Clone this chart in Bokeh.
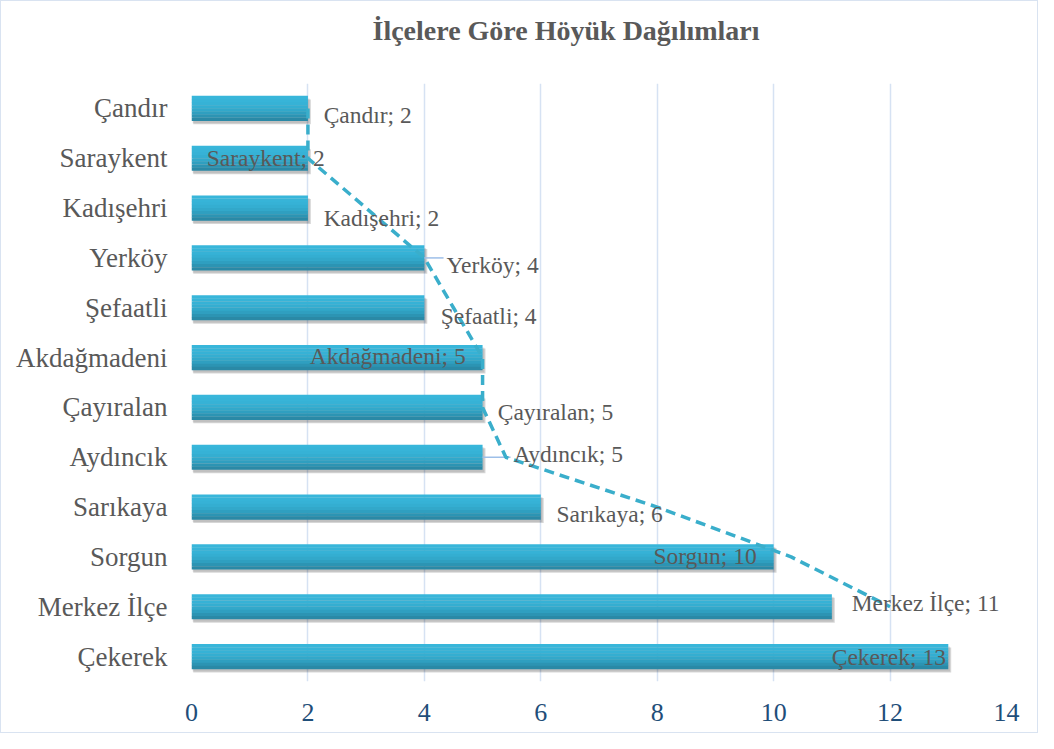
from bokeh.plotting import figure
from bokeh.models import FixedTicker, Title, ColumnDataSource, Range1d, FactorRange
from bokeh.transform import dodge
from bokeh.core.properties import value
from bokeh.embed import file_html
from bokeh.resources import INLINE

# ---- data (top to bottom as shown) ----
districts = ["Çandır", "Saraykent", "Kadışehri", "Yerköy", "Şefaatli", "Akdağmadeni",
             "Çayıralan", "Aydıncık", "Sarıkaya", "Sorgun", "Merkez İlçe", "Çekerek"]
counts = [2, 2, 2, 4, 4, 5, 5, 5, 6, 10, 11, 13]
# dashed line drawn across the chart (approximate positions)
dashed_vals = [2, 2, 3, 4, 4.5, 5, 5, 5.4, 8, 10.3, 12]
x_ticks = [0, 2, 4, 6, 8, 10, 12, 14]
title_text = "İlçelere Göre Höyük Dağılımları"

# ---- label layout (position tweaks, not data) ----
label_dx = [0.27, -1.74, 0.27, 0.38, 0.28, -0.29, 0.26, 0.53, 0.27, -0.29, 0.34, -0.04]
label_align = ["left", "left", "left", "left", "left", "right", "left", "left",
               "left", "right", "left", "right"]
label_dy = [7, 0, 10, 7, 8, -2, 5, -3, 7, -1, -4, 0]
leader_idx = [3, 7]  # labels with a thin leader line (Yerköy, Aydıncık)

SERIF = "Liberation Serif"
GREY = "#595959"
W, H = 1038, 733
BL, BR, BT, BB = 190, 33, 82, 53

factors = list(reversed(districts))
p = figure(width=W, height=H, output_backend="svg", toolbar_location=None,
           y_range=FactorRange(factors=factors, range_padding=0),
           x_range=Range1d(0, 14),
           min_border_left=BL, min_border_right=BR, min_border_top=BT, min_border_bottom=BB)
p.outline_line_color = None
p.background_fill_color = "white"
p.border_fill_color = "white"
p.styles = {"border": "1.5px solid #d9e3f1", "box-sizing": "border-box"}

t = Title(text=title_text + "\n ", align="left", offset=181,
          text_font=SERIF, text_font_size="28px", text_font_style="bold",
          text_color=GREY, standoff=20, text_line_height=0.9)
p.add_layout(t, "above")

# grid
p.ygrid.grid_line_color = None
p.xgrid.grid_line_color = "#d6e2f3"
p.xgrid.grid_line_width = 1.5
p.xaxis.ticker = FixedTicker(ticks=x_ticks)

# axes
for ax in (p.xaxis[0], p.yaxis[0]):
    ax.axis_line_color = None
    ax.major_tick_line_color = None
    ax.minor_tick_line_color = None
p.xaxis.major_label_text_font = SERIF
p.xaxis.major_label_text_font_size = "26px"
p.xaxis.major_label_text_color = "#1f4e79"
p.xaxis.major_label_standoff = 16
p.yaxis.major_label_text_font = SERIF
p.yaxis.major_label_text_font_size = "27px"
p.yaxis.major_label_text_color = GREY
p.yaxis.major_label_standoff = 18

src = ColumnDataSource(dict(
    cat=districts, val=counts,
    lx=[v + d for v, d in zip(counts, label_dx)],
    txt=[f"{c}; {v}" for c, v in zip(districts, counts)],
    align=label_align, dy=label_dy,
))

# shadow
p.hbar(y=dodge("cat", -0.07, range=p.y_range), right=dodge("val", 0.05, range=p.x_range),
       left=0.03, height=0.5, source=src, fill_color="#000000", fill_alpha=0.16, line_color=None)
p.hbar(y=dodge("cat", -0.05, range=p.y_range), right=dodge("val", 0.03, range=p.x_range),
       left=0.02, height=0.5, source=src, fill_color="#000000", fill_alpha=0.10, line_color=None)

# bar with vertical gradient using strips
grad = ["#38b6da", "#37b4d8", "#36b2d6", "#34aed1", "#32a8ca", "#2f9fc0", "#2c94b3", "#2a89a6"]
n = len(grad)
h = 0.5
for i, c in enumerate(grad):
    off = h / 2 - (i + 0.5) * h / n
    p.hbar(y=dodge("cat", off, range=p.y_range), right="val", left=0, height=h / n + 0.004,
           source=src, fill_color=c, line_color=None)

# thin leader lines from bar end to label
lsrc = ColumnDataSource(dict(
    cat=[districts[i] for i in leader_idx],
    x0=[counts[i] for i in leader_idx],
    x1=[counts[i] + label_dx[i] - 0.05 for i in leader_idx],
))
p.segment(x0="x0", y0="cat", x1="x1", y1="cat", source=lsrc,
          line_color="#9dbfe8", line_width=1.5)

# dashed line
p.line(x=dashed_vals, y=districts[:len(dashed_vals)], line_color="#3aaecb",
       line_width=3.5, line_dash="10 6")

# data labels
p.text(x="lx", y="cat", text="txt", source=src, text_align="align",
       text_baseline="middle", y_offset="dy", text_font=value(SERIF),
       text_font_size="23.5px", text_color=GREY)

open("out.html", "w").write(file_html(p, INLINE))
